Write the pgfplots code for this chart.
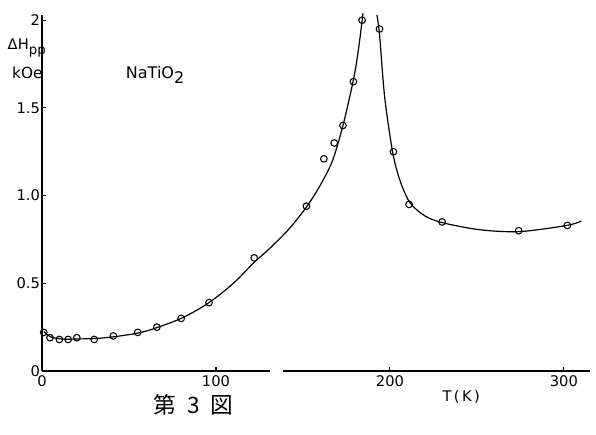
\documentclass[border=0pt]{standalone}
\usepackage{fontspec}
\setmainfont{DejaVu Sans}
\newfontfamily\cjk{Noto Sans CJK JP}
\usepackage{pgfplots}
\pgfplotsset{compat=1.18}
\usetikzlibrary{calc}

% line widths of the resonance curve
\pgfplotstableread{
T     H
1     0.225
5     0.195
12    0.182
22    0.183
32    0.186
45    0.200
60    0.228
80    0.300
96    0.390
110   0.500
122   0.620
131   0.700
142   0.810
152   0.935
160   1.060
167   1.200
173   1.400
179   1.660
182   1.840
184.5 2.040
}\leftbranch
\pgfplotstableread{
T     H
192.5 2.030
194   1.920
197   1.560
201.7 1.240
206   1.080
211.5 0.960
220   0.885
230.5 0.845
252   0.805
274.7 0.795
301.7 0.830
310   0.855
}\rightbranch
\pgfplotstableread{
T     H
1     0.22
4.6   0.19
10    0.18
15    0.18
20    0.19
30    0.18
41    0.20
55    0.22
66    0.25
80    0.30
96    0.39
122   0.645
152   0.94
162   1.21
168   1.30
173   1.40
179   1.65
184   2.00
194   1.95
202   1.25
211   0.95
230   0.85
274   0.80
302   0.83
}\measured

\begin{document}
\begin{tikzpicture}
\begin{axis}[
    scale only axis,
    width=411pt, height=267pt,
    xmin=0, xmax=315, ymin=0, ymax=2.03,
    axis lines=left,
    axis line style={-, line width=1.1pt},
    x axis line style={draw=none},
    xtick={0,100,200,300},
    ytick={0,0.5,1,1.5,2},
    yticklabels={0,0.5,1.0,1.5,2},
    tick align=inside,
    major tick length=3pt,
    tick style={line width=0.8pt, black},
    ticklabel style={font=\fontsize{11}{13}\selectfont},
    yticklabel style={xshift=2pt},
    /pgf/number format/assume math mode=true,
    clip=false,
]
\addplot[smooth, tension=0.5, line width=0.9pt] table[x=T, y=H] {\leftbranch};
\addplot[smooth, tension=0.5, line width=0.9pt] table[x=T, y=H] {\rightbranch};
\addplot[only marks, mark=o, mark size=2.5pt, mark options={line width=0.8pt, fill=white}]
    table[x=T, y=H] {\measured};

\draw[line width=1.1pt] (axis cs:0,0) -- (axis cs:131,0);
\draw[line width=1.1pt] (axis cs:138.5,0) -- (axis cs:315,0);

\node[anchor=east, inner sep=0pt, font=\fontsize{11}{13}\selectfont] at (axis cs:2.3,1.84)
    {ΔH\raisebox{-0.6ex}{\fontsize{10}{12}\selectfont pp}};
\node[anchor=east, inner sep=0pt, font=\fontsize{11.5}{14}\selectfont] at (axis cs:0.5,1.70) {kOe};
\node[font=\fontsize{12}{14}\selectfont] at (axis cs:65,1.69)
    {NaTiO\raisebox{-0.6ex}{2}};
\node[font=\fontsize{11}{13}\selectfont] at (axis cs:241,-0.145) {T\,(\,K\,)};
\node[font=\cjk\fontsize{17}{19}\selectfont] at (axis cs:87,-0.195) {第\hspace{0.5em}3\hspace{0.5em}図};

\coordinate (o) at (axis cs:0,0);
\coordinate (tr) at (axis cs:315,2.03);
\end{axis}
\pgfresetboundingbox
\path ($(o)+(-31.5pt,-48pt)$) rectangle ($(tr)+(4.5pt,11.25pt)$);
\end{tikzpicture}
\end{document}
